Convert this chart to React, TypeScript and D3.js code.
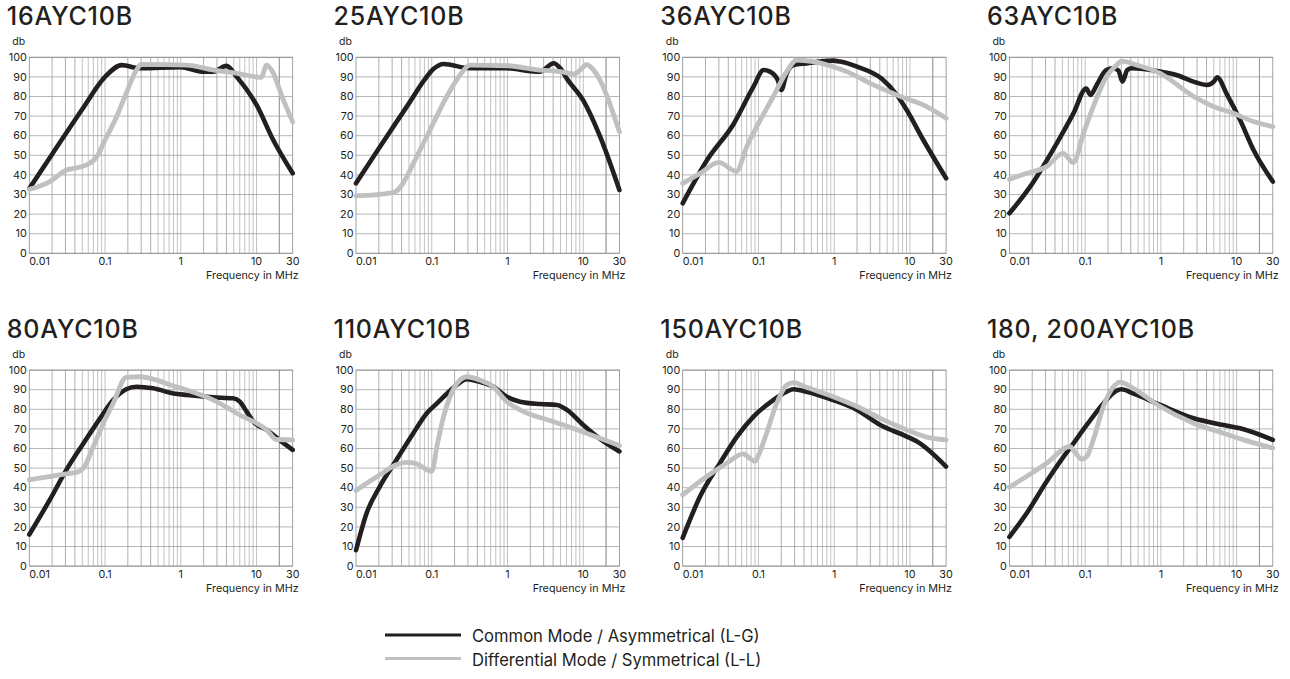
import React from 'react';
import * as d3 from 'd3';

// frequency (MHz) / attenuation (dB) pairs
const MODELS = ['16AYC10B', '25AYC10B', '36AYC10B', '63AYC10B', '80AYC10B', '110AYC10B', '150AYC10B', '180, 200AYC10B'];

const cm16 = [[0.01, 33], [0.02, 50.5], [0.05, 73.5], [0.1, 90], [0.166, 96], [0.29, 94.4], [1, 95], [1.9, 92.7], [2.7, 92.7], [4, 95.6], [5.5, 90], [10, 75.7], [16.6, 57.8], [30, 40.8]];
const dm16 = [[0.01, 32.6], [0.0187, 36.6], [0.031, 42.5], [0.047, 44], [0.063, 46], [0.077, 49], [0.1, 57.8], [0.142, 69.7], [0.19, 81.6], [0.26, 93.5], [0.3, 96.4], [1.2, 96], [2.7, 93.5], [4.9, 92.2], [10, 90], [11.5, 89.8], [13.6, 96], [15.8, 93.5], [22.7, 78], [30, 67]];

const cm25 = [[0.01, 35.7], [0.02, 53.5], [0.05, 76.5], [0.08, 88.5], [0.105, 94], [0.143, 96.6], [0.32, 94.4], [0.98, 94.4], [2.4, 92.7], [2.7, 92.7], [4.06, 97], [4.97, 94.4], [6.1, 89], [10, 78], [16.7, 59.5], [30, 32.3]];
const dm25 = [[0.01, 29.3], [0.031, 31], [0.07, 52.7], [0.095, 63], [0.158, 80], [0.236, 91], [0.32, 96], [0.98, 95.7], [2.7, 93.5], [5, 92.7], [7.5, 91.5], [10, 95], [10.9, 96.4], [13.7, 93.5], [30, 62]];

const cm36 = [[0.01, 25.5], [0.021, 47.6], [0.047, 66], [0.086, 85], [0.117, 93.5], [0.142, 92.7], [0.18, 88.4], [0.2, 83.3], [0.236, 91.8], [0.289, 96], [0.43, 96.9], [0.97, 98.3], [1.2, 97.8], [2, 95.2], [4.25, 89], [6.7, 80.8], [9.1, 73], [15, 57.8], [30, 38.3]];
const dm36 = [[0.01, 35.7], [0.017, 40.8], [0.03, 46.4], [0.051, 41.7], [0.07, 54.4], [0.095, 64.6], [0.157, 80], [0.236, 92.7], [0.32, 98.6], [0.53, 97.8], [0.97, 95.2], [1.46, 92.7], [3.3, 85.9], [7.5, 80], [15, 75.7], [30, 68.9]];

const cm63 = [[0.01, 20.4], [0.0188, 34], [0.042, 56], [0.07, 71.4], [0.103, 84], [0.118, 80.8], [0.142, 85.9], [0.19, 93.5], [0.236, 94.4], [0.275, 93.2], [0.31, 87.6], [0.36, 93.5], [0.41, 94.4], [0.98, 92.7], [1.6, 91], [2.7, 87.6], [4.06, 85.9], [5, 87.6], [5.5, 89.8], [7.5, 80.8], [11.1, 68], [16.7, 52.7], [30, 36.6]];
const dm63 = [[0.01, 37.8], [0.017, 40.8], [0.031, 44.2], [0.051, 51], [0.07, 46.3], [0.095, 61.2], [0.128, 74.8], [0.19, 90], [0.26, 96], [0.3, 98], [0.48, 96], [0.98, 91.8], [2.7, 80], [5, 74.8], [9.1, 71.4], [16.7, 67.2], [30, 64.6]];

const cm80 = [[0.01, 16.1], [0.0187, 33.9], [0.031, 49.2], [0.052, 62.7], [0.086, 75.4], [0.128, 84.7], [0.19, 90.2], [0.26, 91.5], [0.43, 90.7], [0.8, 88.1], [1.2, 87.3], [2.7, 86.1], [4.9, 85.6], [6, 83.9], [7.4, 78.8], [9.1, 73.7], [13.6, 69.5], [20, 64.4], [30, 59.3]];
const dm80 = [[0.01, 44], [0.031, 47.1], [0.042, 47.8], [0.052, 50], [0.07, 61], [0.095, 72.9], [0.128, 83], [0.19, 96.3], [0.29, 96.6], [0.43, 95.4], [0.8, 91.9], [1.2, 89.8], [2.7, 84.7], [6, 77.1], [13.6, 69.5], [18.3, 64.6], [30, 64.4]];

const cm110 = [[0.01, 8.1], [0.0138, 27], [0.0207, 40.7], [0.034, 54], [0.057, 67.8], [0.086, 78], [0.117, 83], [0.19, 90.7], [0.29, 95.4], [0.43, 94], [0.65, 91.5], [0.98, 86.4], [1.46, 83.9], [2.7, 82.7], [4.5, 82.2], [6.1, 79.7], [10, 72], [18.5, 63.6], [30, 58.5]];
const dm110 = [[0.01, 38.6], [0.0207, 46.6], [0.034, 51.7], [0.046, 52.9], [0.063, 52.2], [0.086, 49.2], [0.1, 48.3], [0.117, 61], [0.143, 76.3], [0.174, 86.4], [0.236, 94.9], [0.29, 96.6], [0.43, 94.9], [0.65, 91.5], [0.98, 83.9], [1.46, 79.7], [4.06, 73.7], [11, 67.8], [30, 61.5]];

const cm150 = [[0.01, 14.4], [0.017, 35.6], [0.031, 52.5], [0.052, 66.1], [0.086, 76.3], [0.157, 84.7], [0.236, 89], [0.29, 90.2], [0.43, 89], [0.97, 84.7], [2, 79.7], [4.06, 72], [9.1, 66.1], [12.4, 63.6], [30, 50.8]];
const dm150 = [[0.01, 36.4], [0.021, 45.8], [0.038, 52.5], [0.063, 57.3], [0.077, 55], [0.09, 53.4], [0.105, 58.5], [0.128, 67.8], [0.174, 83], [0.236, 92.4], [0.29, 93.6], [0.43, 91.2], [0.97, 86.4], [2, 81.4], [4.06, 75.4], [9.1, 69.5], [16.7, 65.8], [30, 64.4]];

const cm200 = [[0.01, 14.9], [0.017, 27.1], [0.031, 43.2], [0.052, 55.9], [0.063, 60.2], [0.105, 72], [0.174, 83], [0.26, 89.5], [0.3, 90.2], [0.43, 88.1], [0.98, 82.2], [2.7, 75.4], [6.7, 72], [11.1, 70.3], [30, 64.4]];
const dm200 = [[0.01, 40.3], [0.017, 45.8], [0.031, 52.5], [0.063, 61], [0.074, 58], [0.09, 54.6], [0.105, 55.9], [0.128, 64.4], [0.174, 81.4], [0.236, 91.5], [0.29, 93.9], [0.43, 90.7], [0.98, 81.4], [2.7, 72.9], [6.7, 67.8], [12.4, 64.4], [30, 60.2]];

const COMMON = [cm16, cm25, cm36, cm63, cm80, cm110, cm150, cm200];
const DIFFERENTIAL = [dm16, dm25, dm36, dm63, dm80, dm110, dm150, dm200];

const FREQ_TICKS = [0.01, 0.1, 1, 10, 30];
const FREQ_LABELS = ['0.01', '0.1', '1', '10', '30'];
const DB_TICKS = [0, 10, 20, 30, 40, 50, 60, 70, 80, 90, 100];
const LEGEND = ['Common Mode / Asymmetrical (L-G)', 'Differential Mode / Symmetrical (L-L)'];

const W = 1290;
const H = 679;
const FONT = 'Inter, "Open Sans", sans-serif';
const INK = '#231f20';
const GREY = '#bfc0c2';

const plotW = 263.4;
const plotH = 196;

// minor grid: 2..9 in each decade plus 20
const gridFreqs: number[] = [];
[0.01, 0.1, 1, 10].forEach(d => {
  for (let k = 1; k <= 9; k++) {
    const f = d * k;
    if (f > 0.01 && f < 30) gridFreqs.push(f);
  }
});
gridFreqs.push(20);

function Panel({ idx }: { idx: number }) {
  const col = idx % 4;
  const row = Math.floor(idx / 4);
  const left = 29.3 + col * 326.7;
  const top = 57.3 + row * 312.8;

  const x = d3.scaleLog().domain([0.01, 30]).range([0, plotW]);
  const y = d3.scaleLinear().domain([0, 100]).range([plotH, 0]);
  const line = d3.line<number[]>()
    .x(d => x(d[0]))
    .y(d => y(d[1]))
    .curve(d3.curveMonotoneX);

  return (
    <g transform={`translate(${left},${top})`}>
      <text x={-22.5} y={-32.5} fontSize={25} fontWeight={500} fill={INK} fontFamily={FONT} letterSpacing={0.8}>{MODELS[idx]}</text>
      <text x={-17} y={-12.5} fontSize={10.5} fill={INK} fontFamily={FONT}>db</text>
      {gridFreqs.map(f => {
        const k = Math.round(f / Math.pow(10, Math.floor(Math.log10(f) + 1e-9)));
        const light = k >= 5 || k === 1;
        return (
          <line key={f} x1={x(f)} x2={x(f)} y1={0} y2={plotH}
            stroke={light ? '#c2c2c2' : '#8e8e8e'} strokeWidth={light ? 1 : 0.7} />
        );
      })}
      {DB_TICKS.map(v => (
        <line key={v} x1={0} x2={plotW} y1={y(v)} y2={y(v)} stroke="#979797" strokeWidth={0.7} />
      ))}
      <rect x={0} y={0} width={plotW} height={plotH} fill="none" stroke="#8a8a8a" strokeWidth={0.8} />
      {DB_TICKS.map(v => (
        <text key={v} x={-2.5} y={y(v)} dy="0.35em" textAnchor="end" fontSize={10.8} fill={INK} fontFamily={FONT}>{v}</text>
      ))}
      {FREQ_TICKS.map((f, i) => (
        <text key={f} x={i === 0 ? 0 : x(f)} y={plotH + 12} textAnchor={i === 0 ? 'start' : 'middle'}
          fontSize={10.8} fill={INK} fontFamily={FONT}>{FREQ_LABELS[i]}</text>
      ))}
      <text x={plotW + 6} y={plotH + 26} textAnchor="end" fontSize={10.8} fill={INK} fontFamily={FONT}>Frequency in MHz</text>
      <path d={line(COMMON[idx]) || ''} fill="none" stroke={INK} strokeWidth={4.6} strokeLinejoin="round" strokeLinecap="round" />
      <path d={line(DIFFERENTIAL[idx]) || ''} fill="none" stroke={GREY} strokeWidth={4.8} strokeLinejoin="round" strokeLinecap="round" />
    </g>
  );
}

export default function App() {
  return (
    <svg width={W} height={H} style={{ position: 'absolute', left: 0, top: 0, background: '#fff' }}>
      <rect width={W} height={H} fill="#fff" />
      {MODELS.map((_, i) => <Panel key={i} idx={i} />)}
      <g>
        <line x1={385} x2={461} y1={635} y2={635} stroke={INK} strokeWidth={3} />
        <line x1={385} x2={461} y1={658.5} y2={658.5} stroke={GREY} strokeWidth={3} />
        <text x={472} y={642} fontSize={16.6} fill={INK} fontFamily={FONT}>{LEGEND[0]}</text>
        <text x={472} y={665.5} fontSize={16.6} fill={INK} fontFamily={FONT}>{LEGEND[1]}</text>
      </g>
    </svg>
  );
}
